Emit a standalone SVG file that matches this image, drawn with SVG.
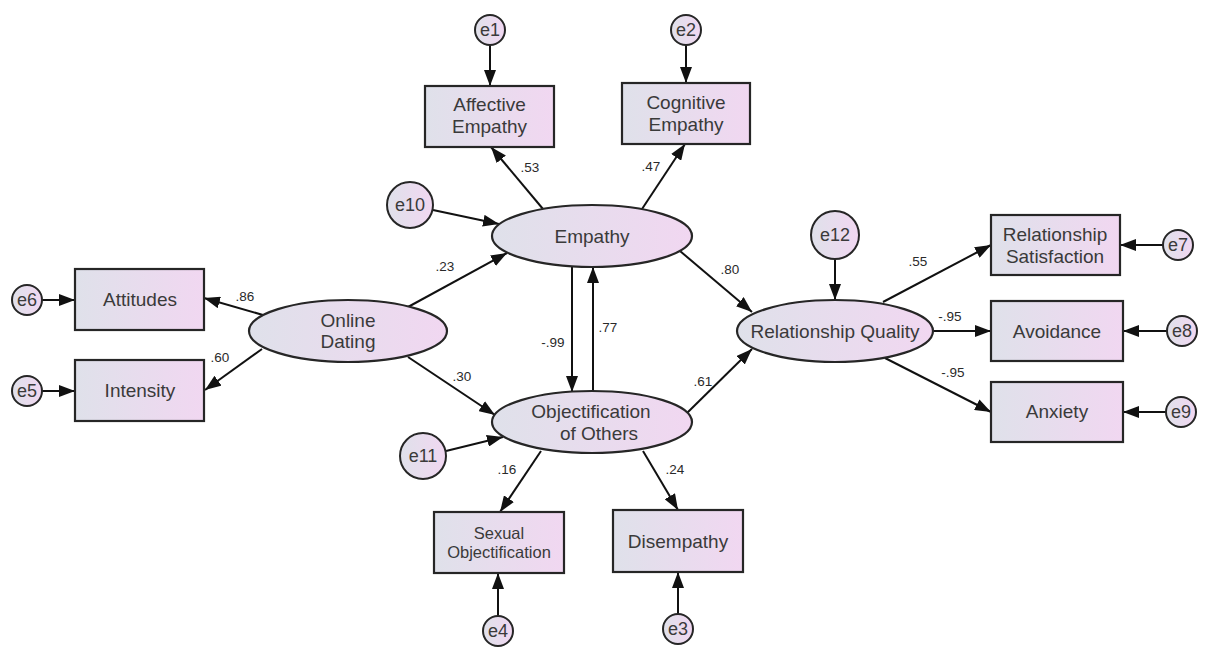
<svg xmlns="http://www.w3.org/2000/svg" width="1207" height="648" viewBox="0 0 1207 648">
  <defs>
    <linearGradient id="fillGrad" x1="0" y1="0" x2="1" y2="0">
      <stop offset="0" stop-color="#dfe1ea"/>
      <stop offset="1" stop-color="#f1d7f1"/>
    </linearGradient>
    <marker id="arrow" viewBox="0 0 16 12" refX="16" refY="6" markerWidth="16" markerHeight="12" markerUnits="userSpaceOnUse" orient="auto">
      <path d="M0,0 L16,6 L0,12 z" fill="#111"/>
    </marker>
  </defs>
  <style>
    .box { fill: url(#fillGrad); stroke: #262626; stroke-width: 2.2; }
    .lat { fill: url(#fillGrad); stroke: #262626; stroke-width: 2.2; }
    .err { fill: url(#fillGrad); stroke: #262626; stroke-width: 2; }
    .lbl { font-family: "Liberation Sans", Arial, sans-serif; font-size: 19px; fill: #3a3a3a; text-anchor: middle; }
    .sm { font-size: 16.5px; }
    .elbl { font-family: "Liberation Sans", Arial, sans-serif; font-size: 18px; fill: #3a3a3a; text-anchor: middle; }
    .num { font-family: "Liberation Sans", Arial, sans-serif; font-size: 13.5px; fill: #2a2a2a; text-anchor: middle; }
    .edge { stroke: #111; stroke-width: 2; fill: none; marker-end: url(#arrow); }
  </style>
  <rect width="1207" height="648" fill="#ffffff"/>

  <!-- connectors -->
  <g id="connectors">
    <line class="edge" x1="490" y1="45" x2="490" y2="86"/>
    <line class="edge" x1="686" y1="45" x2="686" y2="83"/>
    <line class="edge" x1="543" y1="209" x2="491" y2="147"/>
    <line class="edge" x1="642" y1="209" x2="685" y2="144"/>
    <line class="edge" x1="433" y1="210" x2="499" y2="224"/>
    <line class="edge" x1="408" y1="307" x2="507" y2="253"/>
    <line class="edge" x1="408" y1="357" x2="495" y2="415"/>
    <line class="edge" x1="446" y1="451" x2="503" y2="437"/>
    <line class="edge" x1="572" y1="267" x2="572" y2="392"/>
    <line class="edge" x1="593" y1="392" x2="593" y2="267"/>
    <line class="edge" x1="263" y1="315" x2="204" y2="298"/>
    <line class="edge" x1="262" y1="349" x2="205" y2="390"/>
    <line class="edge" x1="42" y1="300" x2="75" y2="300"/>
    <line class="edge" x1="42" y1="391" x2="75" y2="391"/>
    <line class="edge" x1="680" y1="251" x2="752" y2="312"/>
    <line class="edge" x1="687" y1="413" x2="752" y2="349"/>
    <line class="edge" x1="835" y1="259" x2="835" y2="300"/>
    <line class="edge" x1="883" y1="302" x2="991" y2="245"/>
    <line class="edge" x1="933" y1="331" x2="991" y2="331"/>
    <line class="edge" x1="885" y1="358" x2="991" y2="412"/>
    <line class="edge" x1="1163" y1="245" x2="1120" y2="245"/>
    <line class="edge" x1="1167" y1="331" x2="1123" y2="331"/>
    <line class="edge" x1="1166" y1="412" x2="1123" y2="412"/>
    <line class="edge" x1="541" y1="451" x2="500" y2="512"/>
    <line class="edge" x1="643" y1="451" x2="678" y2="510"/>
    <line class="edge" x1="498" y1="616" x2="498" y2="573"/>
    <line class="edge" x1="678" y1="614" x2="678" y2="572"/>
  </g>

  <!-- path coefficients -->
  <g id="coefficients">
    <text class="num" x="530" y="172">.53</text>
    <text class="num" x="651" y="171">.47</text>
    <text class="num" x="445" y="271">.23</text>
    <text class="num" x="245" y="301">.86</text>
    <text class="num" x="220" y="362">.60</text>
    <text class="num" x="462" y="381">.30</text>
    <text class="num" x="553" y="347">-.99</text>
    <text class="num" x="608" y="332">.77</text>
    <text class="num" x="730" y="274">.80</text>
    <text class="num" x="703" y="386">.61</text>
    <text class="num" x="918" y="266">.55</text>
    <text class="num" x="950" y="321">-.95</text>
    <text class="num" x="953" y="377">-.95</text>
    <text class="num" x="507" y="474">.16</text>
    <text class="num" x="675" y="474">.24</text>
  </g>

  <!-- observed variables -->
  <g id="affective-empathy">
    <rect class="box" x="425" y="86" width="129" height="61"/>
    <text class="lbl" x="489.5" y="111">Affective</text>
    <text class="lbl" x="489.5" y="133">Empathy</text>
  </g>
  <g id="cognitive-empathy">
    <rect class="box" x="622" y="83" width="128" height="61"/>
    <text class="lbl" x="686" y="109">Cognitive</text>
    <text class="lbl" x="686" y="131">Empathy</text>
  </g>
  <g id="attitudes">
    <rect class="box" x="75" y="269" width="129" height="61"/>
    <text class="lbl" x="140" y="306">Attitudes</text>
  </g>
  <g id="intensity">
    <rect class="box" x="75" y="360" width="129" height="61"/>
    <text class="lbl" x="140" y="397">Intensity</text>
  </g>
  <g id="relationship-satisfaction">
    <rect class="box" x="991" y="215" width="129" height="60"/>
    <text class="lbl" x="1055" y="241">Relationship</text>
    <text class="lbl" x="1055" y="263">Satisfaction</text>
  </g>
  <g id="avoidance">
    <rect class="box" x="991" y="301" width="132" height="60"/>
    <text class="lbl" x="1057" y="338">Avoidance</text>
  </g>
  <g id="anxiety">
    <rect class="box" x="991" y="382" width="132" height="60"/>
    <text class="lbl" x="1057" y="418">Anxiety</text>
  </g>
  <g id="sexual-objectification">
    <rect class="box" x="434" y="512" width="130" height="61"/>
    <text class="lbl sm" x="499" y="539">Sexual</text>
    <text class="lbl sm" x="499" y="558">Objectification</text>
  </g>
  <g id="disempathy">
    <rect class="box" x="613" y="510" width="130" height="62"/>
    <text class="lbl" x="678" y="548">Disempathy</text>
  </g>

  <!-- latent variables -->
  <g id="online-dating">
    <ellipse class="lat" cx="348" cy="331" rx="99" ry="31"/>
    <text class="lbl" x="348" y="327">Online</text>
    <text class="lbl" x="348" y="348">Dating</text>
  </g>
  <g id="empathy">
    <ellipse class="lat" cx="592" cy="236" rx="100" ry="31"/>
    <text class="lbl" x="592" y="243">Empathy</text>
  </g>
  <g id="objectification-of-others">
    <ellipse class="lat" cx="592" cy="422" rx="100" ry="31"/>
    <text class="lbl" x="591" y="418">Objectification</text>
    <text class="lbl" x="599" y="440">of Others</text>
  </g>
  <g id="relationship-quality">
    <ellipse class="lat" cx="835" cy="331" rx="98" ry="31"/>
    <text class="lbl" x="835" y="338">Relationship Quality</text>
  </g>

  <!-- error terms -->
  <g id="e1">
    <circle class="err" cx="490" cy="30" r="15"/>
    <text class="elbl" x="490" y="36">e1</text>
  </g>
  <g id="e2">
    <circle class="err" cx="686" cy="30" r="15"/>
    <text class="elbl" x="686" y="36">e2</text>
  </g>
  <g id="e6">
    <circle class="err" cx="27" cy="300" r="15"/>
    <text class="elbl" x="27" y="306">e6</text>
  </g>
  <g id="e5">
    <circle class="err" cx="27" cy="391" r="15"/>
    <text class="elbl" x="27" y="397">e5</text>
  </g>
  <g id="e7">
    <circle class="err" cx="1178" cy="245" r="15"/>
    <text class="elbl" x="1178" y="251">e7</text>
  </g>
  <g id="e8">
    <circle class="err" cx="1182" cy="331" r="15"/>
    <text class="elbl" x="1182" y="337">e8</text>
  </g>
  <g id="e9">
    <circle class="err" cx="1181" cy="412" r="15"/>
    <text class="elbl" x="1181" y="418">e9</text>
  </g>
  <g id="e4">
    <circle class="err" cx="498" cy="631" r="15"/>
    <text class="elbl" x="498" y="637">e4</text>
  </g>
  <g id="e3">
    <circle class="err" cx="678" cy="629" r="15"/>
    <text class="elbl" x="678" y="635">e3</text>
  </g>
  <g id="e10">
    <circle class="err" cx="410" cy="205" r="23"/>
    <text class="elbl" x="410" y="211">e10</text>
  </g>
  <g id="e11">
    <circle class="err" cx="423" cy="456" r="23"/>
    <text class="elbl" x="423" y="462">e11</text>
  </g>
  <g id="e12">
    <circle class="err" cx="835" cy="235" r="24"/>
    <text class="elbl" x="835" y="241">e12</text>
  </g>
</svg>
